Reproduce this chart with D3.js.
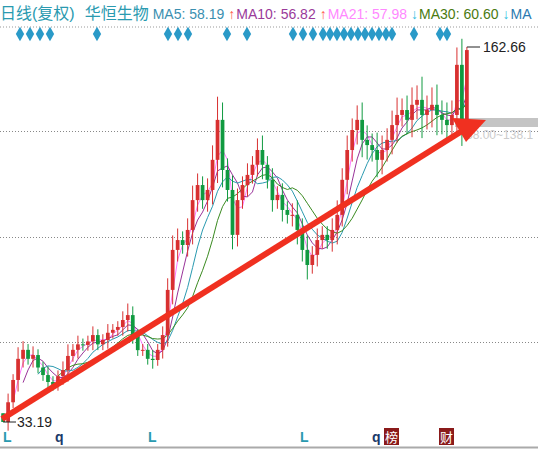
<!DOCTYPE html>
<html><head><meta charset="utf-8">
<script src="https://cdn.jsdelivr.net/npm/d3@7"></script>
<style>body{margin:0;background:#fff}svg{display:block}</style></head>
<body><svg id="c" width="538" height="450"></svg>
<script>
const closes=[33.2,40,47.7,55,58.1,55,56.3,52,49.4,47,46.0,49,51.1,56,58.1,60,59.8,61,63.2,60,61.5,64,65,66,68.4,70.1,63.2,58,58.1,55,54.6,58.1,63.2,78.8,92.6,96,94.3,99.5,109.8,115,109.8,113.3,123.7,137.5,120.2,113.3,97.8,109.8,115,118.5,122,127.1,122,116.8,109.8,111.6,106.4,104.7,104.7,99.5,92.6,87.4,90.9,96,97.8,96,99.5,104.7,116.8,127.1,134,137.5,130.6,128.8,127.1,123.7,127.1,130.6,135.7,139.2,140.9,137.5,142.7,144.4,139.2,140.9,142.7,139.2,137.5,135.7,139.2,156.5,137.5,161.6];
const wick=[0,3,2,4,3,2,3,2,2,3,2,2,3,4,2,3,2,2,3,2,2,3,2,2,3,4,3,2,2,2,3,2,3,4,5,4,3,4,5,4,3,4,5,8,6,4,5,4,3,4,3,4,5,3,4,3,4,3,4,5,4,5,3,4,3,3,4,5,4,5,4,5,6,5,4,6,5,4,5,6,4,5,6,5,8,5,6,7,5,6,5,6,9,1];
const gridVals=[133.7,97.1,60.8];
const lowVal=33.19, highVal=162.66;
const header=[["日线(复权)","#2a9ab0"],["华恒生物","#2a9ab0"],["MA5: 58.19","#3a8fb0"],["↑","#ff5a4a"],["MA10: 56.82","#9a3a9a"],["↑","#ff5a4a"],["MA21: 57.98","#ff88ff"],["↓","#33c0e0"],["MA30: 60.60","#4a7a10"],["↓","#33c0e0"],["MA","#2a7ab0"]];
const diamondX=[20,30,40,50,97,168,178,188,227,247,293,303,313,323,330,337,344,351,358,365,372,379,386,392,414,440,447];
const bottomLabels=[["L",3,"#2a9ab0"],["q",55,"#1a3a6a"],["L",148,"#2a9ab0"],["L",300,"#2a9ab0"],["q",372,"#1a3a6a"]];

const svg=d3.select("#c");
const x=d3.scaleBand().domain(d3.range(closes.length)).range([0,470]).padding(0.25);
const y=d3.scaleLinear().domain([lowVal,highVal]).range([422,47]);

svg.append("line").attr("x1",0).attr("x2",538).attr("y1",27).attr("y2",27).attr("stroke","#999").attr("stroke-dasharray","1,2");
gridVals.forEach(v=>svg.append("line").attr("x1",0).attr("x2",538).attr("y1",Math.round(y(v))+.5).attr("y2",Math.round(y(v))+.5).attr("stroke","#888").attr("stroke-dasharray","1,2"));
svg.append("line").attr("x1",0).attr("x2",538).attr("y1",447.5).attr("y2",447.5).attr("stroke","#aaa").attr("stroke-width",2);

let hx=0;
const ht=svg.append("g");
header.forEach(([t,c],i)=>{const el=ht.append("text").attr("x",hx).attr("y",19).attr("fill",c).attr("font-family","Liberation Sans, Noto Sans CJK SC").attr("font-size",i<2?16:14).text(t);hx+=el.node().getComputedTextLength()+(t.length==1?1:(i==0?10:4));});

svg.append("g").selectAll("path").data(diamondX).join("path").attr("d",d3.symbol(d3.symbolDiamond,60)).attr("transform",d=>`translate(${d},34)`).attr("fill","#2a9ac8");

svg.append("rect").attr("x",455).attr("y",118).attr("width",83).attr("height",9).attr("fill","#c4c4c4");
svg.append("text").attr("x",466).attr("y",139).attr("fill","#ccc").attr("font-family","Liberation Sans").attr("font-size",12).text("38.00~138.1");

function ma(n){return closes.map((c,i)=>i<n-1?null:d3.mean(closes.slice(i-n+1,i+1)));}
const maDefs=[[3,"#ff77ff"],[5,"#993399"],[8,"#2a9ab0"],[12,"#3a8a20"]];
maDefs.forEach(([n,c])=>{const d=ma(n);svg.append("path").datum(d.map((v,i)=>[i,v])).attr("fill","none").attr("stroke",c).attr("stroke-width",1)
 .attr("d",d3.line().defined(p=>p[1]!=null).x(p=>x(p[0])+x.bandwidth()/2).y(p=>y(p[1])));});

const opens=closes.map((c,i)=>i==0?closes[0]+3:closes[i-1]);
const g=svg.append("g");
closes.forEach((c,i)=>{const o=opens[i];const up=c>=o;const col=up?"#d83030":"#109a40";
 let hi=Math.max(o,c)+wick[i],lo=Math.min(o,c)-wick[i];if(i==0)lo=lowVal;if(i==closes.length-1)hi=highVal;
 const cx=x(i)+x.bandwidth()/2;
 g.append("line").attr("x1",cx).attr("x2",cx).attr("y1",y(hi)).attr("y2",y(lo)).attr("stroke",col);
 g.append("rect").attr("x",x(i)).attr("width",x.bandwidth()).attr("y",y(Math.max(o,c))).attr("height",Math.max(1,Math.abs(y(o)-y(c)))).attr("fill",col);});

svg.append("line").attr("x1",2).attr("y1",419).attr("x2",462).attr("y2",131).attr("stroke","#f03020").attr("stroke-width",6);
svg.append("path").attr("d","M486,120 L452,118 L466,142 Z").attr("fill","#f03020");

const ix=closes.length-1, hx2=x(ix)+x.bandwidth()/2;
svg.append("line").attr("x1",hx2).attr("x2",480).attr("y1",y(highVal)).attr("y2",y(highVal)).attr("stroke","#222");
svg.append("text").attr("x",483).attr("y",y(highVal)+5).attr("font-family","Liberation Sans").attr("font-size",14).attr("fill","#222").text("162.66");
svg.append("line").attr("x1",x(0)+x.bandwidth()/2).attr("x2",16).attr("y1",y(lowVal)).attr("y2",y(lowVal)).attr("stroke","#222");
svg.append("text").attr("x",17).attr("y",y(lowVal)+5).attr("font-family","Liberation Sans").attr("font-size",14).attr("fill","#222").text("33.19");

bottomLabels.forEach(([t,xx,c])=>svg.append("text").attr("x",xx).attr("y",442).attr("fill",c).attr("font-family","Liberation Sans").attr("font-weight","bold").attr("font-size",14).text(t));
[["榜",384],["财",439]].forEach(([t,xx])=>{svg.append("rect").attr("x",xx).attr("y",428).attr("width",15).attr("height",17).attr("fill","#8a1a1a");
 svg.append("text").attr("x",xx+1).attr("y",442).attr("fill","#fff").attr("font-family","Noto Sans CJK SC").attr("font-size",13).text(t);});
</script></body></html>
